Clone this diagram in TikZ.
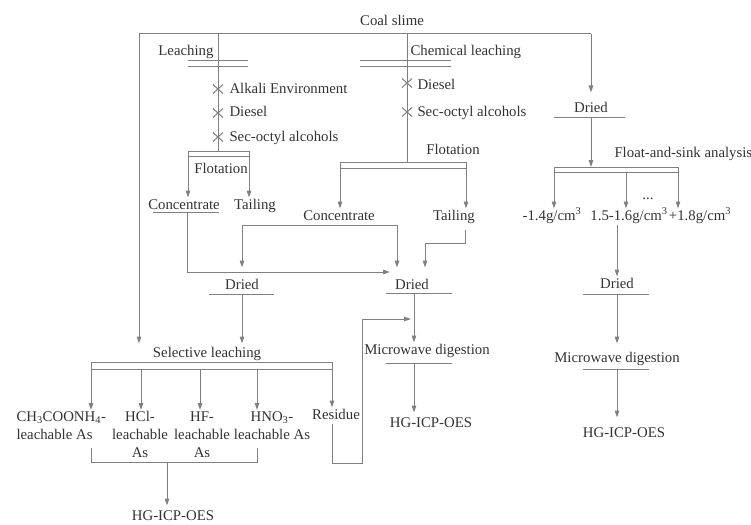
\documentclass[tikz,border=0pt]{standalone}
\usepackage{fontspec}
\setmainfont{Liberation Serif}
\usetikzlibrary{arrows.meta}

\tikzset{
  line/.style={draw=black!50,line width=1pt},
  flow/.style={line,-{Triangle[length=7pt,width=4.5pt]}},
  lbl/.style={inner sep=0pt,outer sep=1.5pt,text=black!80,anchor=base,
              font=\fontsize{14.8}{18}\selectfont,text height=10pt,text depth=3pt},
  lbls/.style={inner sep=0pt,outer sep=1.5pt,text=black!80,anchor=north,
              font=\fontsize{14.8}{18}\selectfont},
}
\newcommand\addcross[1]{\draw[line] (#1) ++(-5,-4.5) -- ++(10,9) (#1) ++(-5,4.5) -- ++(10,-9);}

\begin{document}
\begin{tikzpicture}[x=1pt,y=-1pt]
\useasboundingbox (0,0) rectangle (751,524);

% ---------------- labels ----------------
\node[lbl] (coal) at (392,26) {Coal slime};
\node[lbl,anchor=base east] (leach) at (215,56) {Leaching};
\node[lbl,anchor=base west] (chem) at (409,56) {Chemical leaching};
\node[lbl,anchor=base west] (alk) at (228,94) {Alkali Environment};
\node[lbl,anchor=base west] (dsA) at (228,117) {Diesel};
\node[lbl,anchor=base west] (scA) at (228,141) {Sec-octyl alcohols};
\node[lbl,anchor=base west] (dsB) at (416,89) {Diesel};
\node[lbl,anchor=base west] (scB) at (416,116) {Sec-octyl alcohols};
\node[lbl] (flA) at (221,173) {Flotation};
\node[lbl] (flB) at (453,154) {Flotation};
\node[lbl] (cnA) at (184,209) {Concentrate};
\node[lbl] (tlA) at (255,209) {Tailing};
\node[lbl] (cnB) at (339,220) {Concentrate};
\node[lbl] (tlB) at (454,220) {Tailing};
\node[lbl] (dryL) at (242,289) {Dried};
\node[lbl] (dryM) at (412,289) {Dried};
\node[lbl] (dryA) at (591,113) {Dried};
\node[lbl,anchor=base west] (fsa) at (613,157) {Float-and-sink analysis};
\node[lbl] (dnA) at (552,220) {-1.4g/cm\textsuperscript{3}};
\node[lbl] (dnB) at (629,220) {1.5-1.6g/cm\textsuperscript{3}};
\node[lbl] (dnC) at (700,220) {+1.8g/cm\textsuperscript{3}};
\node[lbl] (dots) at (648,199) {...};
\node[lbl] (dryR) at (617,288) {Dried};
\node[lbl] (mwM) at (427,354) {Microwave digestion};
\node[lbl] (mwR) at (617,362) {Microwave digestion};
\node[lbl] (hgM) at (431,427) {HG-ICP-OES};
\node[lbl] (hgR) at (624,437) {HG-ICP-OES};
\node[lbl] (sel) at (207,357) {Selective leaching};
\node[lbls,anchor=north west,align=left] (ch3) at (15,410) {CH\textsubscript{3}COONH\textsubscript{4}-\\leachable As};
\node[lbls,align=center] (hcl) at (140,410) {HCl-\\leachable\\As};
\node[lbls,align=center] (hf) at (202,410) {HF-\\leachable\\As};
\node[lbls,align=center] (hno) at (272,410) {HNO\textsubscript{3}-\\leachable As};
\node[lbl] (res) at (336,419) {Residue};
\node[lbl] (hgB) at (173,520) {HG-ICP-OES};

% ---------------- trunk ----------------
\coordinate (tkL) at (139,34);
\coordinate (tkA) at (218,34);
\coordinate (tkB) at (407,34);
\coordinate (tkR) at (591,34);
\draw[line] (tkL) -- (tkR);
\draw[flow,shorten >=2pt] (tkL) -- (tkL |- sel.north);
\draw[flow,shorten >=9pt] (tkR) -- (dryA.north);

% ---------------- leaching branch ----------------
\coordinate (fA1) at (188,151);
\coordinate (fA2) at (249,151);
\draw[line] (188,61) -- (248,61) (188,67) -- (248,67);
\draw[line] (tkA) -- (tkA |- fA1);
\draw[line] (fA1) -- (fA2) (188,156) -- (249,156);
\foreach \y in {89,113,137} \addcross{218,\y};
\draw[flow] (fA1) -- (fA1 |- cnA.north);
\draw[flow] (fA2) -- (fA2 |- tlA.north);

% ---------------- chemical leaching branch ----------------
\coordinate (fB1) at (340,162);
\coordinate (fB2) at (466,162);
\draw[line] (360,61) -- (451,61) (360,67) -- (451,67);
\draw[line] (tkB) -- (tkB |- fB1);
\draw[line] (fB1) -- (fB2) (340,168) -- (466,168);
\foreach \y in {83,112} \addcross{407,\y};
\draw[flow] (fB1) -- (fB1 |- cnB.north);
\draw[flow] (fB2) -- (fB2 |- tlB.north);

% ---------------- products to drying ----------------
\coordinate (cnAo) at (187,212);
\coordinate (dryMin) at (390,272);
\draw[line] (153,212) -- (219,212);
\draw[flow] (cnAo) |- (dryMin);
\coordinate (cnL) at (242,225);
\coordinate (cnR) at (397,225);
\draw[line] (cnL) -- (cnR);
\draw[flow,shorten >=10pt] (cnL) -- (dryL.north);
\draw[flow,shorten >=10pt] (cnR) -- (cnR |- dryM.north);
\coordinate (tlBo) at (465,230);
\coordinate (tlBj) at (425,243);
\draw[flow,shorten >=10pt] (tlBo) |- (tlBj) -- (tlBj |- dryM.north);

% ---------------- middle column ----------------
\coordinate (dryMo) at (414,293);
\coordinate (mwMo) at (414,363);
\draw[line] (386,293) -- (452,293);
\draw[flow] (dryMo) -- (dryMo |- mwM.north);
\draw[line] (386,363) -- (452,363);
\draw[flow,shorten >=3pt] (mwMo) -- (mwMo |- hgM.north);

% ---------------- float-and-sink column ----------------
\coordinate (dryAo) at (591,117);
\coordinate (fsT) at (591,167);
\coordinate (fs1) at (554,167);
\coordinate (fs2) at (626,172);
\coordinate (fs3) at (678,167);
\draw[line] (554,117) -- (625,117);
\draw[flow] (dryAo) -- (fsT);
\draw[line] (fs1) -- (fs3) (554,172) -- (678,172);
\draw[flow] (fs1) -- (fs1 |- dnA.north);
\draw[flow] (fs2) -- (fs2 |- dnB.north);
\draw[flow] (fs3) -- (fs3 |- dnC.north);
\draw[flow] (dnB.south -| dryR.north) -- (dryR.north);
\coordinate (dryRo) at (617,294);
\coordinate (mwRo) at (617,369);
\draw[line] (583,294) -- (649,294);
\draw[flow,shorten >=7pt] (dryRo) -- (mwR.north);
\draw[line] (583,369) -- (649,369);
\draw[flow,shorten >=8pt] (mwRo) -- (mwRo |- hgR.north);

% ---------------- selective leaching ----------------
\coordinate (dryLo) at (242,294);
\draw[line] (209,294) -- (274,294);
\draw[flow,shorten >=2pt] (dryLo) -- (dryLo |- sel.north);
\coordinate (s1) at (91,362);
\coordinate (s2) at (141,369);
\coordinate (s3) at (200,369);
\coordinate (s4) at (257,369);
\coordinate (s5) at (332,362);
\draw[line] (s1) -- (s5) (91,369) -- (332,369);
\draw[flow] (s1) -- (s1 |- ch3.north);
\draw[flow] (s2) -- (s2 |- hcl.north);
\draw[flow] (s3) -- (s3 |- hf.north);
\draw[flow] (s4) -- (s4 |- hno.north);
\draw[flow] (s5) -- (s5 |- res.north);

% residue back to digestion
\coordinate (rsB) at (362,463);
\coordinate (mwMin) at (411,319);
\draw[flow] (s5 |- res.south) |- (rsB) |- (mwMin);

% leachates to analysis
\coordinate (brk) at (167,462);
\draw[line] (91,448) |- (257,462) -- (257,448);
\draw[flow,shorten >=3pt] (brk) -- (brk |- hgB.north);
\end{tikzpicture}
\end{document}
